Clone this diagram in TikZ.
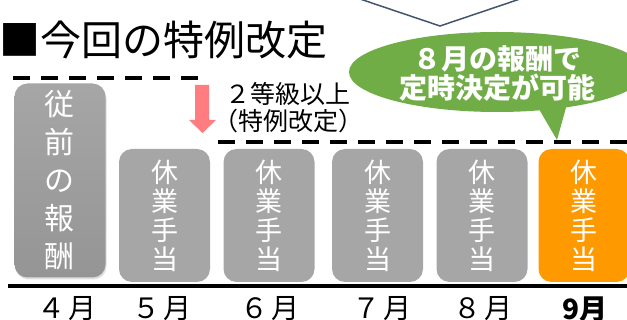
\documentclass[tikz,border=0pt]{standalone}
\usepackage{fontspec}
\setmainfont{Noto Sans CJK JP}
\usetikzlibrary{shadows}

\definecolor{boxgray}{HTML}{A6A6A6}
\definecolor{oldgray}{HTML}{959595}
\definecolor{leaveorange}{HTML}{FF9900}
\definecolor{calloutgreen}{HTML}{70AD47}
\definecolor{arrowpink}{HTML}{FF7C80}
\definecolor{slate}{HTML}{44546A}

\begin{document}
\begin{tikzpicture}[x=1pt, y=-1pt,
    pay/.style={rectangle, rounded corners=13pt, fill=boxgray, text=white,
        minimum width=91pt, minimum height=133pt, align=center,
        font=\fontsize{27}{29}\selectfont},
    month/.style={font=\fontsize{28}{28}\selectfont},
    level/.style={line width=3.5pt, dash pattern=on 17pt off 11pt}]
        \useasboundingbox (0,0) rectangle (627,320);
        \clip (0,0) rectangle (627,320);

        % top of the balloon above
        \draw[slate, line width=1.5pt] (360,-1) -- (440,26) -- (520,-1);

        \node[anchor=west, font=\fontsize{41}{41}\selectfont] (title) at (-4,40) {■今回の特例改定};

        % callout
        \fill[calloutgreen] (497,72) ellipse [x radius=148, y radius=40];
        \fill[calloutgreen] (536,104) -- (557,140) -- (567,104) -- cycle;
        \node[text=white, align=center, font=\bfseries\fontsize{28}{29}\selectfont] (note) at (497,74) {８月の報酬で\\定時決定が可能};

        % levels
        \draw[level] (13,78) -- (205,78);
        \draw[level] (218,142) -- (627,142);
        \fill[arrowpink] (195,85) -- (209,85) -- (209,120) -- (216,120) -- (202.5,133) -- (189,120) -- (195,120) -- cycle;
        \node[align=center, font=\fontsize{25}{27}\selectfont] (rule) at (288,108) {２等級以上\\（特例改定）};

        \node[rectangle, rounded corners=13pt, top color=boxgray, bottom color=oldgray, text=white,
            minimum width=91pt, minimum height=194pt, align=center,
            drop shadow={shadow xshift=1pt, shadow yshift=-2pt, opacity=0.25},
            font=\fontsize{30}{38}\selectfont] (apr) at (60,180.5) {従\\前\\の\\報\\酬};
        \node[pay] (may) at (164.5,215.5) {休\\業\\手\\当};
        \node[pay] (jun) at (269,215.5) {休\\業\\手\\当};
        \node[pay] (jul) at (377.5,215.5) {休\\業\\手\\当};
        \node[pay] (aug) at (482,215.5) {休\\業\\手\\当};
        \node[pay, fill=leaveorange] (sep) at (584,215.5) {休\\業\\手\\当};

        \draw[line width=4pt] (8,286) -- (627,286);

        \node[month] (m4) at (67,309) {４\hspace{3pt}月};
        \node[month] (m5) at (162,309) {５\hspace{3pt}月};
        \node[month] (m6) at (270,309) {６\hspace{3pt}月};
        \node[month] (m7) at (382,309) {７\hspace{3pt}月};
        \node[month] (m8) at (483,309) {８\hspace{3pt}月};
        \node[month, font=\bfseries\fontsize{28}{28}\selectfont] (m9) at (585,309) {9月};

    \end{tikzpicture}
\end{document}
